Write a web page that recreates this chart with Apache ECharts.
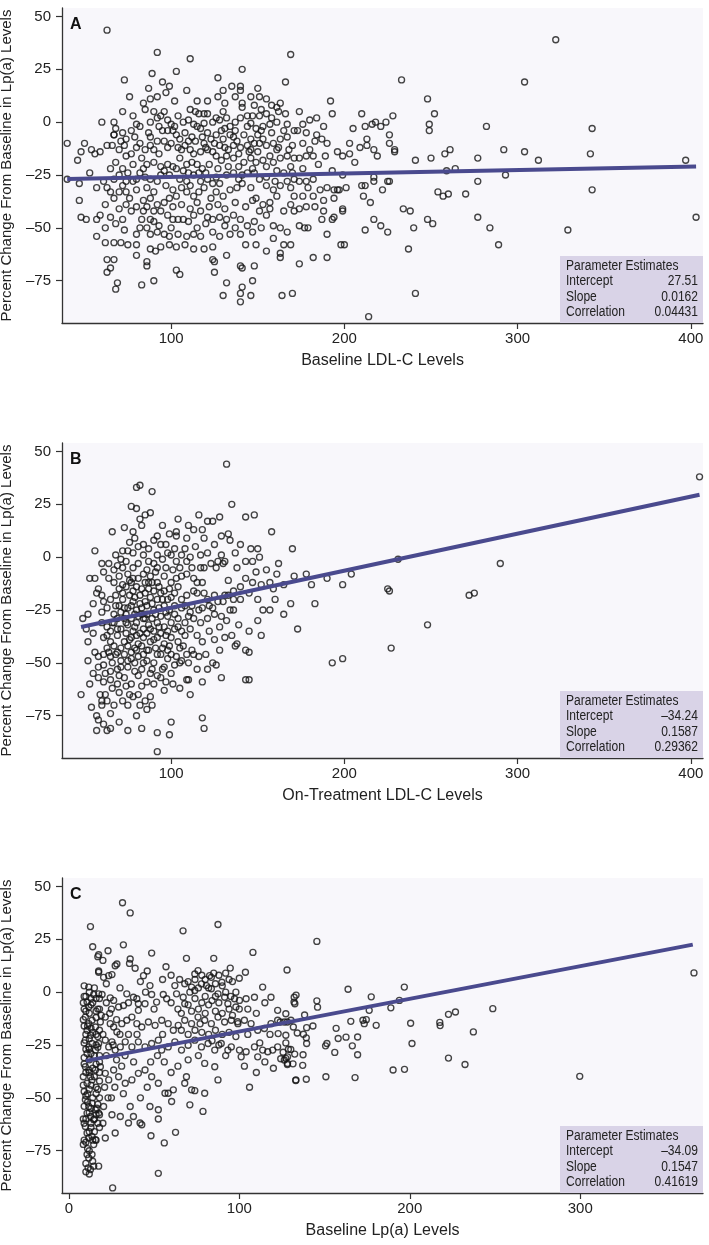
<!DOCTYPE html>
<html>
<head>
<meta charset="utf-8">
<script src="https://cdn.jsdelivr.net/npm/echarts@6/dist/echarts.min.js"></script>
<style>
html, body { margin: 0; padding: 0; background: #fff; }
#chart { width: 709px; height: 1245px; }
</style>
</head>
<body>
<div id="chart"></div>
<script>
var font = "'Liberation Sans', Arial, sans-serif";

// percent change in Lp(a) vs baseline LDL-C
var ptsA = [
[63,43.5],[92,33],[111,30],[169,32],[141,25],[103,24],[89,23],[73,20],[127,21],[166,19],
[135,17],[140,17],[130,15],[140,15],[150,16],[146,12],[151,12],[155,11],
[97,14],[92,12],[88,11],[84,9],[76,12],[102,10],[141,9],[141,7],[163,9],[161,7],[162,5],
[192,10],[174,5],[210,4],[193,4],[114,5],[116,4],[119,4],[60,0],[67,0],[68,-3],[67,-6],
[78,3],[80,-1],[82,-2],[85,6],[90,5],[92,2],[94,3],[98,1],[102,-2],[107,0],
[110,1],[113,-1],[115,-2],[117,-3],[124,0],[126,2],[128,1],[132,2],[134,-2],
[140,2],[144,3],[147,3],[151,3],[155,4],[144,-2],[149,-3],[153,-2],[157,-1],[161,0],[167,-1],
[171,-4],[173,-4],[176,-1],[180,1],[184,2],[188,-2],[205,-3],[212,-2],[216,-1],[218,0],[221,-2],[224,0],
[40,-10],[46,-18],[50,-10],[48,-14],[54,-13],[56,-15],[59,-14],[63,-11],[53,-24],
[66,-11],[70,-13],[73,-11],[74,-16],[77,-15],[67,-6],[74,-8],[77,-4],
[82,-10],[85,-13],[88,-11],[90,-13],[93,-15],[83,-17],[86,-20],[90,-19],[94,-21],[98,-20],
[96,-9],[100,-10],[103,-6],[105,-8],[108,-11],[111,-13],[113,-15],[117,-14],[121,-13],[124,-14],[126,-16],[129,-18],[132,-16],
[105,-17],[109,-20],[112,-19],[115,-20],[119,-10],[123,-8],[126,-6],[130,-8],[134,-6],
[136,-11],[140,-12],[144,-11],[148,-10],[151,-10],[155,-11],[159,-10],[163,-8],[167,-7],
[136,-17],[142,-19],[146,-17],[149,-19],[153,-18],[159,-19],[163,-17],[167,-16],[171,-17],[174,-17],[178,-16],[182,-16],
[184,-6],[187,-8],[190,-10],[196,-14],[199,-16],[203,-15],[206,-19],[209,-12],[213,-11],[217,-13],[219,-16],[189,-16],
[40,-27],[47,-29],[47,-37],[61,-28],[65,-22],[67,-27],[70,-25],[74,-28],
[65,-33],[67,-36],[70,-33],[74,-33],[76,-36],[80,-32],[82,-24],[88,-27],[92,-28],[94,-25],
[84,-37],[88,-36],[92,-39],[96,-38],[99,-36],[103,-35],[105,-27],[109,-28],[113,-25],[117,-28],[121,-27],[124,-29],
[109,-33],[113,-35],[119,-31],[123,-36],[126,-33],[130,-35],[134,-32],[138,-31],
[132,-25],[136,-24],[141,-25],[144,-24],[148,-24],[151,-27],
[149,-36],[153,-39],[157,-38],[161,-35],[163,-30],[167,-28],[171,-27],[174,-28],[178,-28],[182,-27],
[171,-35],[176,-35],[182,-35],[186,-32],[190,-31],[197,-32],[201,-31],
[188,-37],[194,-36],[199,-41],[211,-35],[215,-38],[217,-28],[222,-32],[225,-28],
[48,-45],[51,-46],[57,-46],[59,-44],[65,-45],[68,-48],[72,-46],[74,-39],[77,-42],[80,-40],
[84,-42],[88,-46],[83,-46],[90,-47],[94,-42],[98,-44],[101,-46],[104,-46],[107,-46],[110,-47],[113,-44],
[117,-42],[121,-45],[124,-46],[128,-45],[132,-46],[136,-44],[140,-46],[144,-49],[148,-47],
[151,-42],[155,-44],[159,-49],[163,-50],[169,-39],[171,-42],[174,-41],[178,-40],[174,-49],[177,-50],[179,-50],
[187,-46],[193,-46],[199,-42],[188,-42],[190,-53],
[57,-54],[62,-57],[67,-57],[71,-57],[75,-58],[80,-58],
[80,-53],[82,-50],[88,-53],[92,-52],[96,-53],[99,-54],[104,-53],[109,-54],[113,-53],[117,-54],
[88,-60],[91,-61],[94,-59],[99,-58],[103,-59],[108,-58],[113,-60],[119,-60],[124,-59],
[124,-52],[128,-54],[134,-53],[140,-53],[143,-58],[149,-58],[155,-61],[159,-55],[165,-58],[169,-58],
[80,-63],[86,-66],[86,-68],
[124,-65],[125,-66],[132,-63],[140,-68],[141,-69],[148,-68],[163,-64],[163,-62],[174,-67],[182,-64],[190,-64],[198,-58],[200,-58],
[63,-65],[67,-65],[65,-69],[63,-71],[69,-76],[68,-79],[83,-77],[90,-75],[103,-70],[105,-72],[125,-71],
[132,-76],[141,-78],[147,-75],[140,-81],[140,-85],[130,-82],[146,-82],[164,-82],[170,-81],[214,-92],
[233,20],[228,3],[226,-6],[226,-10],[229,-13],[229,-14],[248,11],[252,4],[249,-1],[249,-4],[241,-18],[250,-17],[258,-15],[261,-13],[259,-23],[264,-22],
[282,-2],[277,-17],[292,-13],[304,-14],[312,-18],[304,19],[322,39],[343,-3],[342,-15],[397,-18],[293,-25],[277,-28],[226,-28],
[254,-33],[257,-35],[260,-34],[270,-34],[343,-32],[234,-41],[238,-42],[248,-46],[251,-48],[240,-50],[277,-45],[284,-50],[403,-45],[329,-51],[237,-60],[289,-58],[241,-81],
[213,-8],[203,-10],[199,-25],[217,-26],[210,-30],[212,-30],[194,-32],[196,-32],[217,-46],[221,-49],[225,-52],[212,-51],[194,-45],
[72,-5],[79,-7],[87,-5],[95,-4],[101,-4],[108,-5],[112,-7],[121,-5],[129,-4],[137,-4],[142,-6],[150,-6],[158,-5],[165,-4],[178,-5],[183,-9],
[71,-9],[80,-12],[92,-9],[98,-12],[106,-13],[114,-9],[120,-12],[128,-11],[133,-13],[138,-9],[146,-13],[153,-8],[161,-13],[170,-11],[176,-10],[180,-13],
[68,-19],[72,-22],[78,-20],[84,-22],[96,-23],[101,-21],[107,-23],[118,-22],[122,-20],[127,-22],[133,-21],[139,-21],[147,-22],[155,-21],[161,-23],[169,-21],[176,-22],[185,-20],[193,-23],
[57,-31],[63,-31],[72,-30],[78,-28],[86,-31],[90,-33],[97,-30],[101,-32],[106,-31],[111,-30],[116,-33],[128,-29],[141,-29],[146,-31],[155,-30],[159,-32],[169,-31],[179,-31],
[62,-39],[70,-41],[86,-40],[90,-42],[101,-40],[106,-39],[111,-41],[115,-38],[122,-40],[127,-39],[131,-41],[137,-38],[143,-40],[147,-37],[157,-41],[165,-42],[183,-40],
[72,5],[88,0],[96,5],[104,3],[111,6],[121,4],[130,5],[137,0],[146,-0.5],[152,6],[158,2],[166,4],[100,-1],[119,-0.5],
[99,17],[109,15],[121,10],[127,12],[137,12],[148,8],[115,10],[87,16],[95,19],[131,9],[158,8],
[86,-50],[93,-49],[100,-50],[115,-50],[120,-48],[131,-49],[137,-50],[147,-52],[152,-50],[167,-52],[73,-51],[62,-50],
[75,-24],[80,-27],[85,-26],[99,-25],[103,-22],[110,-24],[116,-24],[120,-24],[126,-26],[139,-27],[155,-26],[160,-28],[165,-24],[170,-24],
[104,-12],[110,-9],[118,-7],[125,-10],[131,-12],[139,-15],[145,-14],[150,-14],[157,-16],[162,-12],[168,-13],
[88,-7],[93,-2],[98,-4],[131,-3],[136,-7],[146,-8],[152,-4]
];

// percent change in Lp(a) vs on-treatment LDL-C
var ptsB = [
[132,44],[80,33],[82,34],[89,31],[77,24],[80,23],[135,25],[85,20],[88,21],[82,18],[83,15],[104,18],[73,14],[66,12],[78,12],[79,9],
[121,17],[124,17],[128,19],[143,19],[148,20],[158,12],[99,11],[103,12],[103,10],[109,9],[113,13],[118,13],[119,9],[129,10],[133,11],[134,8],
[56,3],[170,4],[146,4],[150,4],[151,0],[84,6],[90,8],[94,6],[98,2],[75,3],[78,2],[81,5],
[68,1],[71,-1],[74,-2],[69,-4],[64,-3],[84,1],[87,-2],[90,-3],[95,-1],[100,1],[103,-2],[106,1],[109,-2],[111,0],
[117,1],[121,2],[129,1],[131,-2],[117,-5],[119,-5],[123,-3],[127,-2],[126,-5],[130,-3],[133,-11],[138,-5],[143,-2],[147,-2],
[149,-7],[147,-12],[152,-13],[157,-12],[159,-15],[165,-13],[171,-9],[53,-10],[61,-7],[58,-15],[57,-17],[60,-18],
[64,-10],[67,-12],[70,-9],[72,-13],[75,-8],[77,-12],[81,-10],[84,-8],[85,-12],
[88,-9],[92,-12],[96,-9],[100,-12],[103,-10],[106,-9],[109,-8],[113,-10],[115,-12],
[61,-21],[65,-20],[68,-18],[72,-20],[76,-18],[78,-21],[82,-18],[85,-21],[88,-19],[92,-20],
[94,-17],[98,-20],[102,-17],[106,-20],[109,-18],[113,-16],[115,-17],[119,-17],[118,-12],
[121,-20],[125,-18],[131,-18],[133,-18],[136,-16],[140,-14],[130,-21],[136,-20],
[134,-25],[136,-25],[139,-32],[135,-37],[137,-42],[138,-41],[143,-44],[145,-45],
[153,-25],[157,-25],[165,-27],[169,-22],[173,-34],[152,-37],[49,-29],[52,-27],[51,-34],
[60,-26],[63,-24],[67,-27],[71,-26],[75,-24],[79,-27],[83,-24],[86,-27],[90,-25],
[60,-31],[63,-33],[67,-31],[71,-34],[75,-32],[80,-31],[84,-34],[87,-32],[92,-31],[96,-33],[100,-31],
[104,-29],[108,-31],[110,-28],[113,-29],[117,-31],[121,-29],[125,-27],[124,-24],[129,-28],[132,-30],
[61,-38],[65,-40],[69,-37],[73,-40],[77,-38],[81,-41],[84,-38],[88,-40],[92,-38],[96,-41],[100,-38],[104,-40],[108,-37],[111,-34],[115,-37],
[56,-45],[58,-47],[61,-46],[65,-47],[69,-45],[73,-46],[77,-45],[81,-47],[84,-46],[52,-49],
[94,-46],[98,-48],[100,-46],[103,-47],[106,-49],[109,-46],[113,-46],
[58,-52],[61,-51],[65,-54],[69,-53],[75,-52],[79,-54],[83,-53],[81,-56],
[89,-53],[92,-56],[94,-57],[97,-59],[102,-51],[105,-50],[110,-50],
[126,-51],[129,-57],[109,-58],[110,-58],[143,-58],[145,-58],[111,-65],
[58,-57],[61,-59],[65,-58],[69,-60],[73,-57],[77,-60],[83,-61],[86,-59],[90,-60],[48,-65],
[59,-65],[62,-65],[67,-70],[72,-68],[76,-65],[81,-65],[85,-68],[88,-66],[86,-72],[89,-70],
[54,-71],[60,-68],[60,-70],[57,-75],[58,-77],[61,-79],[80,-75],[100,-78],[118,-76],
[57,-82],[63,-82],[65,-81],[83,-81],[92,-83],[99,-84],[119,-81],[92,-92],
[178,-8],[181,-13],[183,-22],[190,-10],[193,-50],[199,-48],[199,-13],[204,-8],[225,-15],[226,-16],[227,-43],[231,-1],[248,-32],[272,-18],[275,-17],[290,-3],[405,38],
[70,-15],[74,-14],[78,-16],[80,-14],[83,-15],[87,-15],[90,-16],[93,-14],[96,-16],[99,-15],
[70,-23],[73,-24],[77,-23],[80,-25],[82,-22],[86,-23],[89,-22],[93,-24],[96,-23],[99,-25],[102,-23],[106,-24],
[69,-29],[73,-29],[77,-29],[81,-28],[85,-29],[89,-29],[94,-28],[98,-28],[102,-27],
[65,-35],[69,-34],[74,-36],[78,-35],[82,-36],[86,-36],[90,-35],[94,-36],[98,-35],[102,-34],[106,-35],
[63,-43],[67,-42],[71,-43],[75,-42],[79,-43],[83,-42],[87,-44],[91,-43],[95,-43],[99,-42],[105,-43],
[66,-50],[71,-49],[75,-49],[79,-50],[86,-49],[90,-50],[96,-52],
[67,-6],[72,-5],[78,-5],[81,-3],[86,-6],[92,-5],[97,-5],[101,-6],[105,-5],[112,-5],
[72,3],[76,7],[87,4],[92,1],[97,6],[102,4],[108,4],[114,5],[125,6],[137,2],[140,6],[110,15],[116,20],[95,15],[92,10],
[118,-24],[122,-23],[127,-21],[112,-23],[116,-25],[128,-33],[122,-35],[118,-40],[125,-39],[131,-38],[128,-44],[120,-46],[124,-50],[115,-53],[118,-59],[100,-55],[96,-63],[105,-62],[70,-64],[75,-70],[65,-74],[70,-78],[75,-82],[52,-40],[55,-36],[55,-22],[56,-10],[60,-3],[55,-55],[53,-60],
[140,-20],[145,-17],[150,-20],[143,-10],[155,-6],[161,-8],[150,-30],[145,-35],[160,-20],[162,-3],
[76,-11],[79,-19],[83,-27],[87,-12],[91,-27],[95,-20],[97,-26],[74,-31],[79,-33],[84,-29],[88,-34],[93,-33],[97,-37],[76,-39],[80,-37],[86,-44],[90,-39],[72,-17],[68,-23],[66,-31],[63,-37],[64,-45],
[62,-55],[66,-62],[70,-56],[74,-61],[78,-66],[82,-70],[63,-68],[68,-46],[71,-52],[77,-48],[80,-44],[84,-50],[88,-55],[92,-46],[74,-27],[78,-10],[85,-17],[89,-12],[91,-7],
[100,-19],[104,-14],[108,-23],[111,-26],[104,-33],[107,-42],[112,-44],[116,-47],[121,-53],[98,-44],[95,-53],[101,-60]
];

// percent change in Lp(a) vs baseline Lp(a)
var ptsC = [
[31.5,42.3],[36,37.5],[12.7,31],[87.5,32],[67,29],
[14,21.5],[17.5,17.7],[17,16.8],[20,15],[23,19.6],[32,22.4],[36,15.7],[35.6,13.6],[48.6,18.5],[69,16],[85,16],[108,18.8],[128,10.5],
[17.5,10],[17.5,9.4],[20.4,7],[23.4,7.8],[25.3,8.3],[27.2,12.5],[28.2,13.3],[38.9,11.3],[43.8,7.8],
[73.9,8.6],[75.8,10.2],[82.6,7.8],[83.6,7],[89.8,4.7],[94.7,11.4],[100,6.6],[103.6,9.4],
[11.7,2.4],[14.6,-1.1],[10.7,-4.7],[11.7,-7],[17.5,-0.8],[19.5,-1.1],[24.3,-2.7],[26.3,-3.9],[29.2,-7],[32.1,-6.3],[34,-0.8],[37.9,-2.4],[39.9,-3.1],[40.8,-5.5],[44.7,-5.5],[40.8,-8.6],
[47.6,3.1],[48.6,-1.1],[51.5,-4.7],[55.4,-1.1],[57.4,-3.1],[62.2,3.1],[63.2,-0.8],[67.1,-2.4],[68,-5.5],[72,2.4],[73.9,0.8],[77.8,3.9],[80.7,3.1],[83.6,1.6],[87.5,-0.8],[91.4,-2.4],[93.3,-5.5],[97.2,-3.1],[100.1,-3.9],[104,-3.1],
[108.9,-2.4],[113.7,2.4],[118.6,-2.4],[122.5,-8.6],[127.3,-10.2],[132.2,-2.4],[132.6,-5.5],
[9.7,-11.8],[11.7,-14.9],[13.6,-13.3],[10.7,-18],[12.7,-20.4],[15.6,-16.5],[18.5,-14.1],[21.4,-11.8],[24.3,-14.9],[26.3,-16.5],[28.2,-18.8],[31.1,-14.9],[34,-13.3],[37,-11.8],[39.9,-14.9],[42.8,-16.5],[46.7,-14.1],[50.6,-15.7],[54.5,-13.3],[58.3,-14.9],[61.3,-18],[64.2,-15.7],[68,-13.3],[72,-14.9],[75.8,-11.8],[79.7,-13.3],[83.6,-14.9],[87.5,-11.8],[91.4,-14.1],[95.3,-13.3],[99.2,-14.9],[103,-13.3],
[106.9,-14.9],[110.8,-18],[114.7,-17.2],[118.6,-14.9],[122.5,-13.3],[126.4,-14.1],[130.3,-13.3],
[100.1,-27.4],[101.1,-30.6],[104,-28.2],[108.9,-25.9],[110.8,-30.6],[113.7,-27.4],[116.7,-28.2],[119.6,-27.4],[122.5,-25.9],[126.4,-32.1],[128.3,-33.7],[133.2,-41.5],[128.3,-30.6],
[9.7,-22.7],[11.7,-25.9],[13.6,-24.3],[10.7,-29],[15.6,-27.4],[17.5,-24.3],[21.4,-22.7],[23.4,-25.9],[25.3,-23.5],[27.2,-27.4],[30.2,-25.9],[33.1,-23.5],[37,-25.9],[40.8,-23.5],[44.7,-25.9],[48.6,-24.3],[52.5,-22.7],[54.5,-27.4],[58.3,-25.9],[62.2,-23.5],[66.1,-27.4],[70,-25.1],[73.9,-22.7],[77.8,-25.9],[81.7,-24.3],[85.6,-27.4],[89.4,-24.3],[93.3,-27.4],[95.3,-25.9],
[9.7,-35.3],[11.7,-36.8],[12.7,-40],[10.7,-43.1],[13.6,-41.5],[15.6,-36.8],[18.5,-35.3],[21.4,-38.4],[23.4,-41.5],[26.3,-36.8],[29.2,-40],[33.1,-43.1],[37,-41.5],[40.8,-38.4],[44.7,-36.8],[48.6,-40],[52.5,-43.1],[56.4,-47.8],[58.3,-47.8],[61.3,-46.2],[69,-40],[68,-43.1],[72,-46.2],[73.9,-46.6],[79.7,-47.8],[78.7,-56.4],[87.5,-41.5],[85.6,-35.3],[79.7,-33.7],
[9.7,-50.9],[11.7,-54.1],[10.7,-57.2],[13.6,-52.5],[15.6,-55.6],[12.7,-58.8],[14.6,-60.3],[17.5,-57.2],[16.5,-54.9],[20.4,-54.1],[25.3,-58],[30.2,-58.8],[35,-61.9],[37.9,-58.8],[41.8,-61.9],[42.8,-62.7],[47.6,-54.1],[52.5,-55.6],[52.5,-60],[60.3,-51.7],[71,-53.3],[36,-54.1],
[9.7,-63.5],[10.7,-66.6],[11.7,-69],[13.6,-68.2],[15.6,-69.8],[14.6,-72.1],[21.4,-69],[27.2,-66.6],[48.2,-67.9],[56,-71.3],[62.6,-66.3],
[10.7,-76.8],[11.7,-78.4],[13.6,-76.8],[11.3,-83.1],[12.7,-83.9],[14.6,-82.3],[17.5,-82.3],[52.5,-85.7],[25.7,-92.6],
[8.5,-5],[9,-8],[10,-20],[9,-31],[8.5,-40],[9,-47],[8.5,-60],[9,-70],[16,-3],[18,-8],[16,-20],[18,-30],[16,-45],[18,-50],[17,-62],[12,-10],[12,-32],[12,-46],[13,-64],[14,-5],
[145.5,24],[163.8,1.4],[196.8,2.4],[177.4,-2.2],[133.3,-1.4],[132.1,-4.7],[145.5,-4.1],[145.9,-7.1],[193.9,-3.9],[188.9,-7.4],[176.2,-8.6],[248.7,-7.8],[222.7,-10.5],[226.8,-9.4],[138.3,-10.8],
[165.4,-13.8],[172.5,-13.3],[174.5,-13],[173.3,-14.9],[180.3,-15.7],[200.5,-14.7],[217.6,-14.3],[217.8,-15.8],[143.2,-16],[139.5,-16.8],[131.7,-16.5],[128.2,-14.1],[124,-14.1],
[156.8,-17.1],[158,-21.9],[162.6,-21.3],[169.4,-21.2],[134,-19.3],[137.6,-19.9],[139.3,-21.6],[139.5,-24.3],[127.3,-20.4],[122.8,-19.6],[127.3,-24],[237.3,-18.8],
[150.6,-25.4],[151.4,-24.3],[166.3,-25.4],[156,-28.5],[169.4,-29.6],[201.3,-24.3],
[128.8,-27],[130.2,-27.1],[125.7,-28.4],[132.5,-29.3],[137.4,-29.6],[124.3,-31.5],[127.3,-31.3],[128.2,-34.2],[131.5,-33.9],[137.2,-34.6],
[222.7,-31.2],[232.4,-34.2],[133.1,-41.8],[139.3,-41.2],[150.8,-40],[167.9,-40.4],[190.2,-36.8],[196.9,-36.5],[299.7,-39.8],[366.7,9.1],
[9,3],[12,0],[15,2],[18,-3],[9,-2],[13,-6],[16,-9],[19,-11],[8.5,-13],[11,-16],[14,-19],[17,-21],[9,-24],[12,-27],[15,-30],[18,-33],[9,-34],[12,-38],[15,-40],[18,-42],[8.5,-44],[11,-48],[14,-50],[17,-53],[9,-54],[12,-57],[15,-60],[18,-64],[9,-62],[12,-66],[15,-66],[8.5,-72],[11,-74],[14,-80],[10,-85],[12,-86],[10,-81],
[20,-20],[22,-30],[21,-45],[23,-50],[20,-62],[24,-10],[22,-5],[26,-25],[28,-32],[27,-45],[25,-50],[30,-20],[31,-35],[33,-30],[32,-48],[35,-20],[38,-33],
[60,-5],[64,-8],[66,-10],[70,-6],[72,-9],[74,-3],[76,-8],[78,-5],[80,-10],[82,-6],[84,-4],[86,-9],[88,-5],[90,-10],[92,0],[94,-8],[96,-11],[98,-7],[86,4],[88,8],[80,6],[92,9],[96,5],[76,2],[70,5],
[66,-18],[70,-20],[74,-18],[78,-19],[82,-20],[86,-18],[90,-20],[94,-19],[98,-21],[84,-23],[88,-25],[92,-30],[76,-30],[70,-32],[64,-35],[60,-38],[56,-33],[52,-30],[48,-33],[46,-45],[42,-50],
[55,-20],[50,-8],[45,0],[42,5],[55,6],[60,8],[65,6],[57,12],[46,10],[40,-20],[35,-5],[30,2],[25,-8],[28,-13],[22,4],
[105,-8],[110,-10],[115,-5],[105,-20],[112,-24],[118,-20],[103,-35],[110,-38],[115,-33],[120,-36],[106,-45],
[10,-2],[13,-3],[16,-12],[10,-9],[13,-17],[16,-25],[10,-27],[13,-29],[16,-34],[10,-38],[13,-44],[16,-48],[10,-49],[13,-55],[16,-58],[10,-60],[13,-62],[16,-70],[10,-71],[12,-75],
[9,-16],[18,-18],[18,-38],[18,-58],[17,-46],[12,-22],[14,-36],[11,-52],[14,-70],[17,-26],[17,-8],
[78,8],[82,2],[85,9],[90,3],[94,6],[98,0],[100,-8],[74,6],[71,0],[68,4],[80,-2],[86,-2],[95,-2],[99,-14],[77,-15]
];

// fitted lines (end points)
var fitA = [[40, -26.9], [403, -21]];
var fitB = [[48, -33], [405, 29.5]];
var fitC = [[10, -32.5], [366, 22.5]];

var letters = ['A', 'B', 'C'];
var xNames = ['Baseline LDL-C Levels', 'On-Treatment LDL-C Levels', 'Baseline Lp(a) Levels'];
var xTicksLDL = [100, 200, 300, 400];
var xTicksLpa = [0, 100, 200, 300];
var yTicks = [-75, -50, -25, 0, 25, 50];
var paramNames = ['Intercept', 'Slope', 'Correlation'];
var paramA = ['27.51', '0.0162', '0.04431'];
var paramB = ['\u201334.24', '0.1587', '0.29362'];
var paramC = ['\u201334.09', '0.1547', '0.41619'];

var panels = [
    {pts: ptsA, fit: fitA, xmin: 37, xmax: 407, ticks: xTicksLDL, params: paramA},
    {pts: ptsB, fit: fitB, xmin: 37, xmax: 407, ticks: xTicksLDL, params: paramB},
    {pts: ptsC, fit: fitC, xmin: -4, xmax: 372, ticks: xTicksLpa, params: paramC}
];

var myChart = echarts.init(document.getElementById('chart'));
var txt = '#222';
var grids = [], xAxes = [], yAxes = [], series = [], graphic = [];
var gridLeft = 62, gridWidth = 641, gridH = 315, step = 435, gridTop0 = 8;

panels.forEach(function (p, i) {
    var top = gridTop0 + step * i;
    grids.push({
        left: gridLeft, top: top, width: gridWidth, height: gridH,
        containLabel: false, outerBoundsMode: 'none',
        show: true, backgroundColor: '#f8f7fb', borderWidth: 0
    });
    xAxes.push({
        type: 'value', gridIndex: i, min: p.xmin, max: p.xmax,
        name: xNames[i], nameLocation: 'middle', nameGap: 30,
        nameTextStyle: {fontSize: 16, color: txt, fontFamily: font},
        axisLine: {onZero: false, lineStyle: {color: '#333', width: 1.3}},
        axisTick: {customValues: p.ticks, length: 6, lineStyle: {color: '#333', width: 1.2}},
        axisLabel: {customValues: p.ticks, fontSize: 15, color: txt, margin: 8, fontFamily: font},
        splitLine: {show: false}
    });
    yAxes.push({
        type: 'value', gridIndex: i, min: -95, max: 54,
        name: 'Percent Change From Baseline in Lp(a) Levels',
        nameLocation: 'middle', nameGap: 48, nameRotate: 90,
        nameTextStyle: {fontSize: 15, color: txt, fontFamily: font},
        axisLine: {show: true, onZero: false, lineStyle: {color: '#333', width: 1.3}},
        axisTick: {customValues: yTicks, length: 6, lineStyle: {color: '#333', width: 1.2}},
        axisLabel: {
            customValues: yTicks, fontSize: 15, color: txt, margin: 11, fontFamily: font,
            formatter: function (v) { return v < 0 ? '\u2013' + Math.abs(v) : String(v); }
        },
        splitLine: {show: false}
    });
    series.push({
        type: 'scatter', xAxisIndex: i, yAxisIndex: i, data: p.pts,
        symbol: 'circle', symbolSize: 6,
        itemStyle: {color: 'rgba(0,0,0,0)', borderColor: '#151515', borderWidth: 1.35},
        silent: true, z: 2
    });
    series.push({
        type: 'line', xAxisIndex: i, yAxisIndex: i, data: p.fit,
        showSymbol: false, symbol: 'none',
        lineStyle: {color: '#4a4a8e', width: 4},
        silent: true, z: 3
    });
    // panel letter
    graphic.push({
        type: 'text', left: 70, top: top + 9, z: 10,
        style: {text: letters[i], font: 'bold 16px Arial, sans-serif', fill: '#111'}
    });
    // parameter estimates box
    var bx = 560, by = top + 248, bw = 143, bh = 67;
    graphic.push({
        type: 'rect', shape: {x: bx, y: by, width: bw, height: bh}, z: 10,
        style: {fill: '#d9d3e7'}
    });
    graphic.push({
        type: 'text', x: bx + 6, y: by + 3, z: 11, scaleX: 0.86,
        style: {text: 'Parameter Estimates', font: '14px ' + font, fill: txt}
    });
    paramNames.forEach(function (n, k) {
        graphic.push({
            type: 'text', x: bx + 6, y: by + 18.5 + k * 15.5, z: 11, scaleX: 0.86,
            style: {text: n, font: '14px ' + font, fill: txt}
        });
        graphic.push({
            type: 'text', x: bx + bw - 5, y: by + 18.5 + k * 15.5, z: 11, scaleX: 0.86,
            style: {text: p.params[k], font: '14px ' + font, fill: txt, align: 'right'}
        });
    });
});

var option = {
    animation: false,
    backgroundColor: '#fff',
    grid: grids,
    xAxis: xAxes,
    yAxis: yAxes,
    series: series,
    graphic: graphic
};
myChart.setOption(option);
</script>
</body>
</html>
